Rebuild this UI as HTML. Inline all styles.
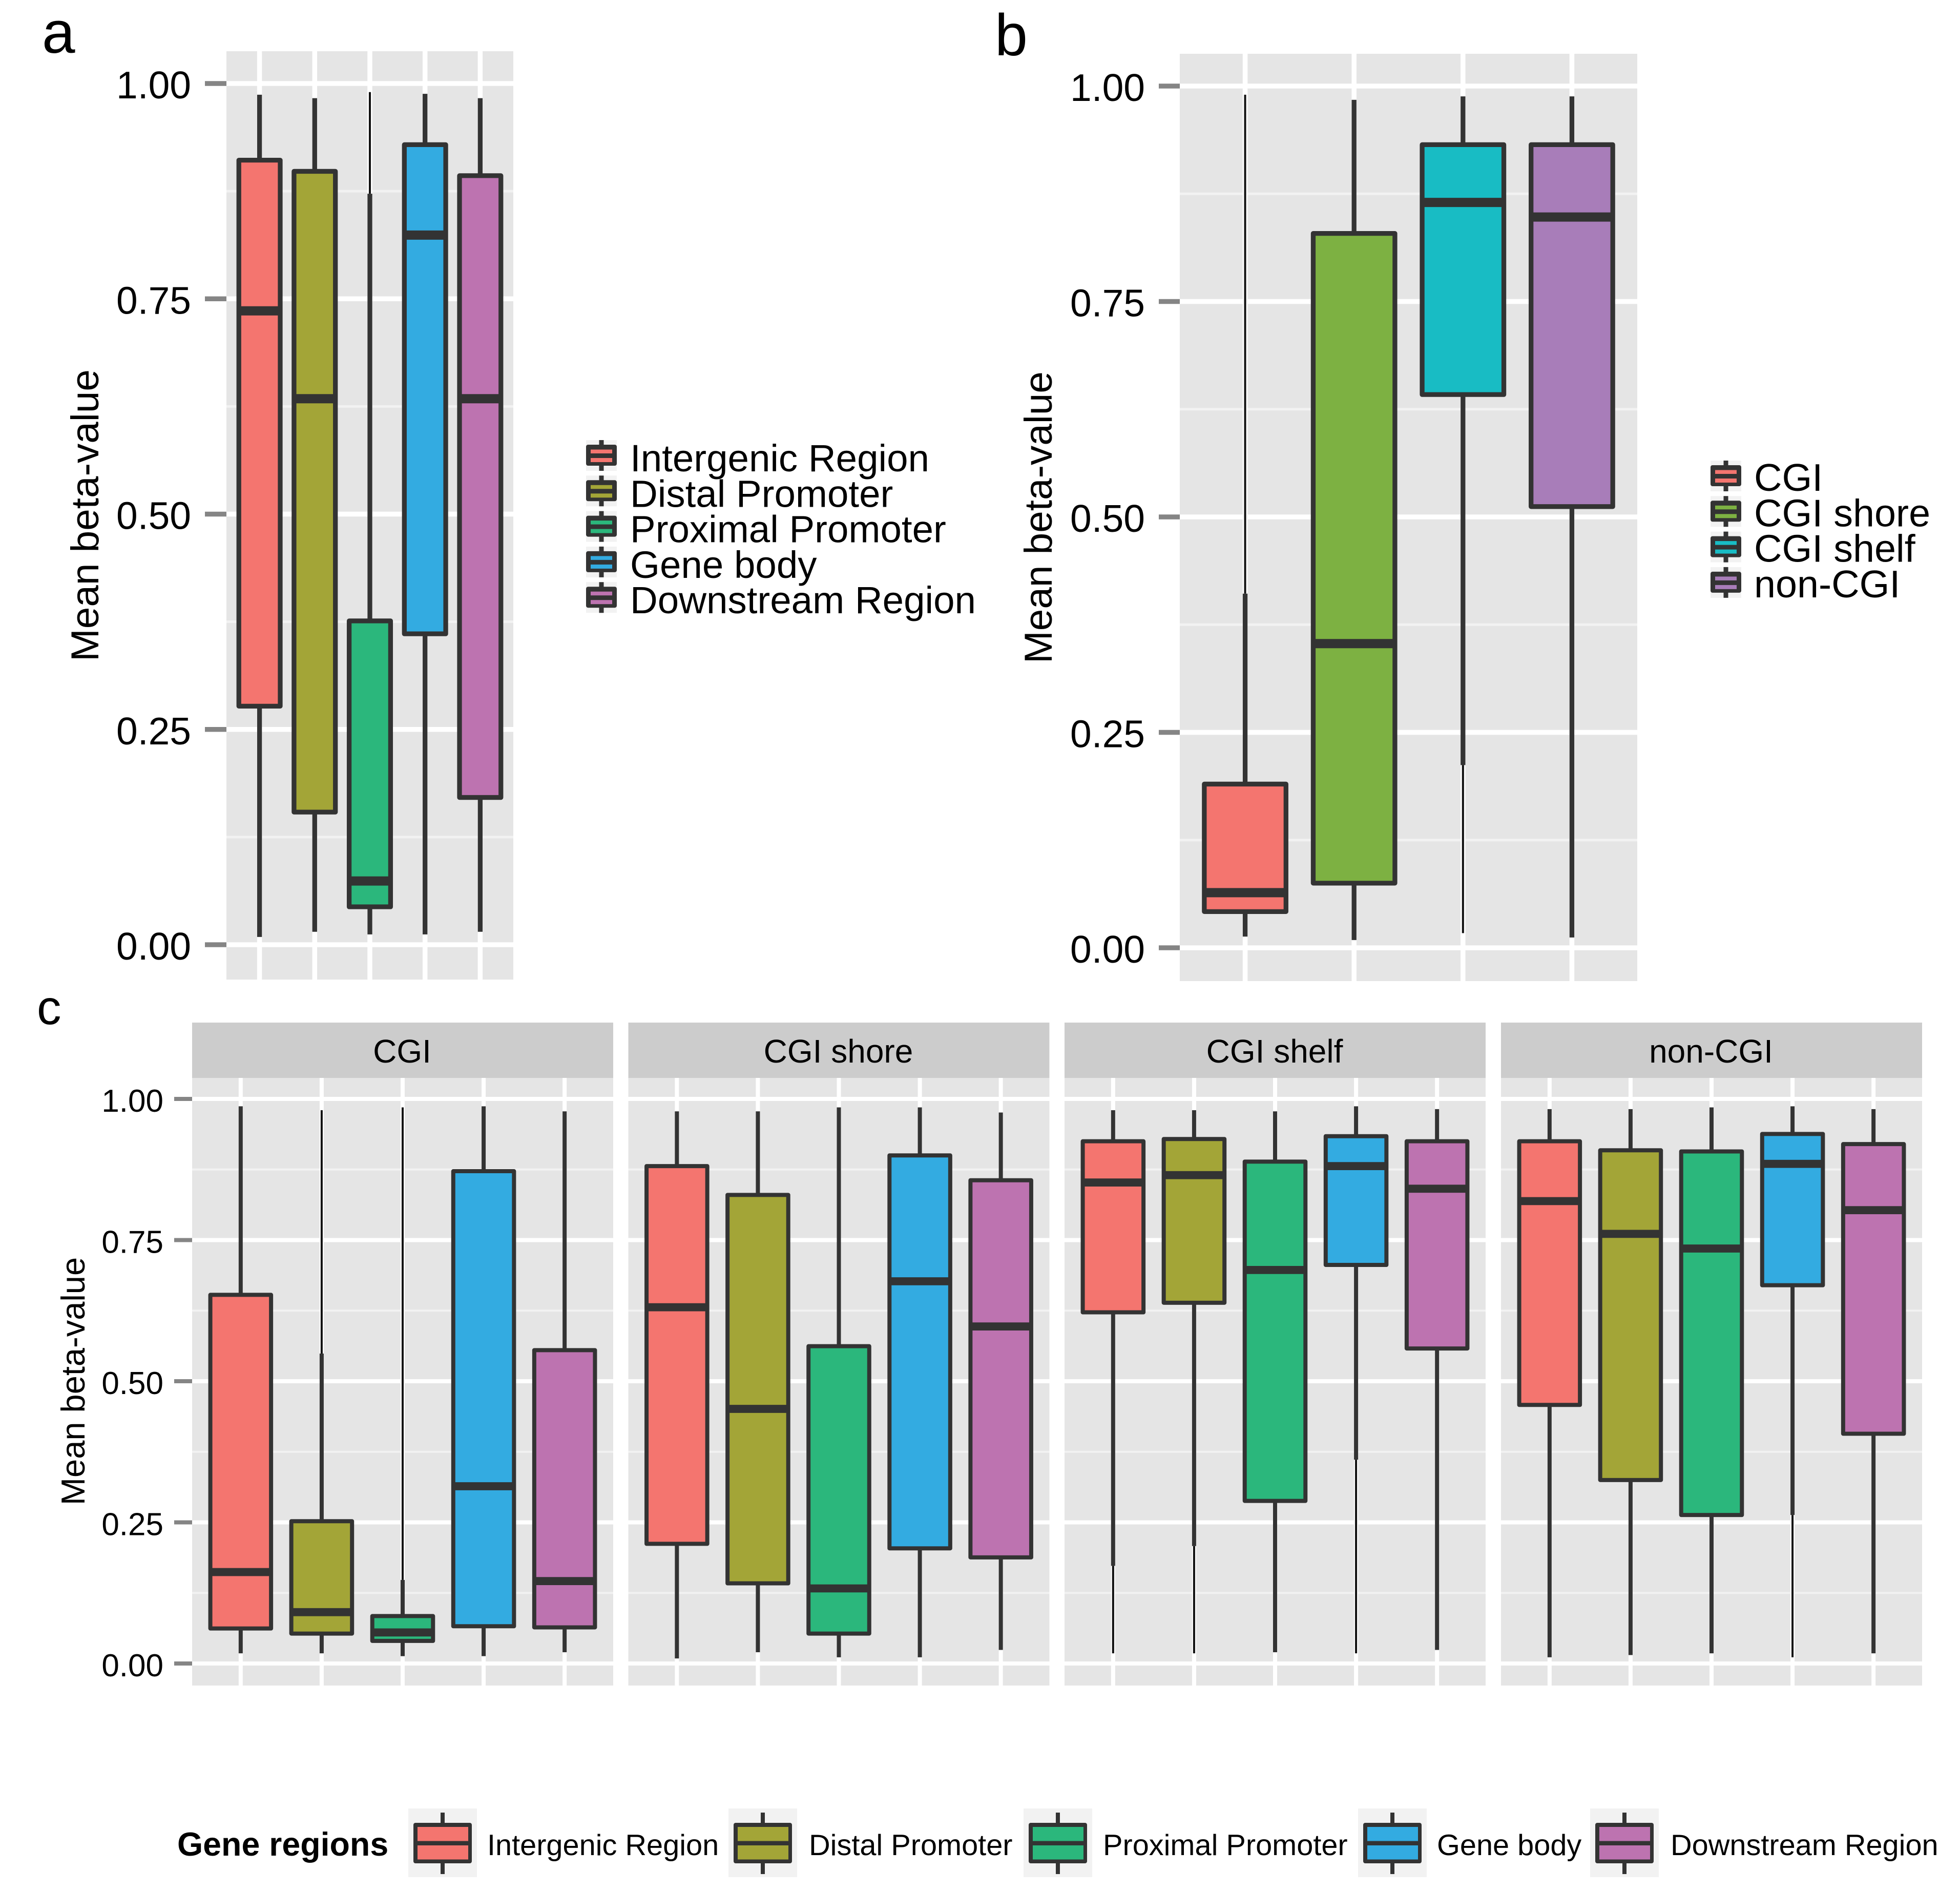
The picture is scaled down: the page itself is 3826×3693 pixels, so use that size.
<!DOCTYPE html>
<html lang="en">
<head>
<meta charset="utf-8">
<title>Mean beta-value box plots</title>
<style>
html,body{margin:0;padding:0;background:#fff;width:3826px;height:3693px;overflow:hidden}
svg{display:block}
text{font-family:"Liberation Sans",Arial,sans-serif;fill:#000}
</style>
</head>
<body>
<svg id="chart" xmlns="http://www.w3.org/2000/svg" width="3826" height="3693" viewBox="0 0 3826 3693">
  <rect x="0" y="0" width="3826" height="3693" fill="#ffffff"/>
</svg>
<script>
// ---- shared axis data ----
const tickValues = [0, 0.25, 0.5, 0.75, 1];
const tickLabels = ['0.00', '0.25', '0.50', '0.75', '1.00'];
const minorTickValues = [0.125, 0.375, 0.625, 0.875];
const yAxisTitle = 'Mean beta-value';

// ---- panel a ----
const regions = ['Intergenic Region', 'Distal Promoter', 'Proximal Promoter', 'Gene body', 'Downstream Region'];
const regionColors = ['#f4756f', '#a3a537', '#2bb77c', '#33abe1', '#bd73b0'];
const aHigh = [0.987, 0.983, 0.990, 0.988, 0.983];
const aQ3   = [0.911, 0.898, 0.376, 0.929, 0.893];
const aMed  = [0.736, 0.634, 0.074, 0.824, 0.634];
const aQ1   = [0.277, 0.154, 0.044, 0.361, 0.171];
const aLow  = [0.009, 0.015, 0.012, 0.012, 0.015];
const aThinUpperTo = [null, null, 0.872, null, null];
const aThinLowerFrom = [null, null, null, null, null];

// ---- panel b ----
const cgiClasses = ['CGI', 'CGI shore', 'CGI shelf', 'non-CGI'];
const cgiColors = ['#f4756f', '#7db142', '#18bcc4', '#a87db9'];
const bHigh = [0.990, 0.984, 0.988, 0.988];
const bQ3   = [0.190, 0.829, 0.932, 0.932];
const bMed  = [0.064, 0.353, 0.865, 0.848];
const bQ1   = [0.042, 0.075, 0.642, 0.512];
const bLow  = [0.013, 0.009, 0.017, 0.012];
const bThinUpperTo = [0.411, null, null, null];
const bThinLowerFrom = [null, null, 0.212, null];

// ---- panel c (one row per facet, one column per gene region) ----
const cHigh = [
  [0.987, 0.980, 0.985, 0.987, 0.978],
  [0.978, 0.978, 0.985, 0.985, 0.976],
  [0.980, 0.980, 0.978, 0.987, 0.982],
  [0.982, 0.982, 0.985, 0.987, 0.982]
];
const cQ3 = [
  [0.653, 0.252, 0.084, 0.872, 0.555],
  [0.881, 0.830, 0.562, 0.900, 0.856],
  [0.925, 0.929, 0.889, 0.934, 0.925],
  [0.925, 0.909, 0.907, 0.938, 0.920]
];
const cMed = [
  [0.162, 0.091, 0.055, 0.314, 0.146],
  [0.631, 0.451, 0.133, 0.677, 0.597],
  [0.852, 0.865, 0.697, 0.881, 0.841],
  [0.819, 0.761, 0.735, 0.885, 0.803]
];
const cQ1 = [
  [0.062, 0.053, 0.040, 0.066, 0.064],
  [0.212, 0.142, 0.053, 0.204, 0.188],
  [0.622, 0.639, 0.288, 0.706, 0.558],
  [0.458, 0.325, 0.263, 0.670, 0.407]
];
const cLow = [
  [0.018, 0.018, 0.013, 0.013, 0.020],
  [0.009, 0.020, 0.011, 0.011, 0.024],
  [0.018, 0.018, 0.020, 0.018, 0.024],
  [0.011, 0.015, 0.018, 0.011, 0.018]
];
const cThinUpperTo = [
  [null, 0.549, 0.148, null, null],
  [null, null, null, null, null],
  [null, null, null, null, null],
  [null, null, null, null, null]
];
const cThinLowerFrom = [
  [null, null, null, null, null],
  [null, null, null, null, null],
  [0.173, 0.208, null, 0.361, null],
  [null, null, null, 0.263, null]
];

// ---- drawing helpers ----
const NS = 'http://www.w3.org/2000/svg';
const root = document.getElementById('chart');
function make(tag, parent, props) {
  const node = document.createElementNS(NS, tag);
  for (const k in props) node.setAttribute(k, props[k]);
  parent.appendChild(node);
  return node;
}
function slug(s) { return s.toLowerCase().replace(/[^a-z0-9]+/g, '-'); }
const DARK = '#333333';

function drawFrame(parent, g, withAxis, name) {
  const yScale = v => g.yZero - v * (g.yZero - g.yOne);
  const n = g.count;
  const step = (g.right - g.left) / (n - 1 + 1.2);
  const xScale = i => g.left + (i + 0.6) * step;

  const bg = make('rect', parent, {x: g.left, y: g.top, width: g.right - g.left, height: g.bottom - g.top, fill: '#e5e5e5'});
  
  

  minorTickValues.forEach(v => {
    const line = make('line', parent, {x1: g.left, x2: g.right, y1: yScale(v), y2: yScale(v), stroke: '#f2f2f2', 'stroke-width': g.minorW});
    
    
  });
  tickValues.forEach(v => {
    const line = make('line', parent, {x1: g.left, x2: g.right, y1: yScale(v), y2: yScale(v), stroke: '#ffffff', 'stroke-width': g.majorW});
    
    
  });
  for (let i = 0; i < n; i++) {
    const line = make('line', parent, {x1: xScale(i), x2: xScale(i), y1: g.top, y2: g.bottom, stroke: '#ffffff', 'stroke-width': g.majorW});
    
    
  }
  if (withAxis) {
    tickValues.forEach((v, i) => {
      const tick = make('line', parent, {x1: g.left - g.tickLen, x2: g.left, y1: yScale(v), y2: yScale(v), stroke: '#858585', 'stroke-width': g.majorW});
      
      
      const label = make('text', parent, {x: g.labelRight, y: yScale(v) + g.labelDy, 'font-size': g.labelSize, 'text-anchor': 'end'});
      label.textContent = tickLabels[i];
      
      
    });
  }
  return {xScale, yScale, step};
}

function drawBoxes(parent, g, scales, series, names, colors, name) {
  const {xScale, yScale, step} = scales;
  const half = step * 0.375;
  names.forEach((cat, i) => {
    const grp = make('g', parent, {});
    
    
    const x = xScale(i);
    const yHigh = yScale(series.high[i]);
    const yLow = yScale(series.low[i]);
    const yQ3 = yScale(series.q3[i]);
    const yQ1 = yScale(series.q1[i]);
    const yMed = yScale(series.med[i]);

    // upper whisker (may have a hairline portion)
    const upTo = series.thinUp[i];
    if (upTo !== null) {
      const thin = make('line', grp, {x1: x, x2: x, y1: yHigh, y2: yScale(upTo), stroke: '#111111', 'stroke-width': 4});
      
      
      const thick = make('line', grp, {x1: x, x2: x, y1: yScale(upTo), y2: yQ3, stroke: DARK, 'stroke-width': g.stroke});
      
      
    } else {
      const up = make('line', grp, {x1: x, x2: x, y1: yHigh, y2: yQ3, stroke: DARK, 'stroke-width': g.stroke});
      
      
    }
    // lower whisker
    const lowFrom = series.thinLow[i];
    if (lowFrom !== null) {
      const thick = make('line', grp, {x1: x, x2: x, y1: yQ1, y2: yScale(lowFrom), stroke: DARK, 'stroke-width': g.stroke});
      
      
      const thin = make('line', grp, {x1: x, x2: x, y1: yScale(lowFrom), y2: yLow, stroke: '#111111', 'stroke-width': 4});
      
      
    } else {
      const down = make('line', grp, {x1: x, x2: x, y1: yQ1, y2: yLow, stroke: DARK, 'stroke-width': g.stroke});
      
      
    }
    const box = make('rect', grp, {x: x - half, y: yQ3, width: half * 2, height: yQ1 - yQ3, fill: colors[i], stroke: DARK, 'stroke-width': g.stroke, 'stroke-linejoin': 'round'});
    
    
    const med = make('line', grp, {x1: x - half, x2: x + half, y1: yMed, y2: yMed, stroke: DARK, 'stroke-width': g.medianW});
    
    
  });
}

function drawYTitle(parent, x, y, size, name) {
  const t = make('text', parent, {transform: 'translate(' + x + ' ' + y + ') rotate(-90)', 'font-size': size, 'text-anchor': 'middle'});
  t.textContent = yAxisTitle;
  
  
}

function drawPanelLetter(letter, x, y, size) {
  const t = make('text', root, {x: x, y: y, 'font-size': size});
  t.textContent = letter;
  
  
}

function drawSideLegend(names, colors, keyLeft, firstTop, textX, firstBaseline, fontSize, name) {
  const pitch = 69.3;
  names.forEach((label, i) => {
    const top = firstTop + i * pitch;
    const grp = make('g', root, {});
    
    
    const bg = make('rect', grp, {x: keyLeft, y: top, width: 60, height: 60, fill: '#f2f2f2'});
    
    
    const whisk = make('line', grp, {x1: keyLeft + 30, x2: keyLeft + 30, y1: top, y2: top + 60, stroke: DARK, 'stroke-width': 9});
    
    
    const body = make('rect', grp, {x: keyLeft, y: top + 9, width: 60, height: 41, rx: 4, fill: DARK});
    
    
    const upper = make('rect', grp, {x: keyLeft + 9, y: top + 18.5, width: 42, height: 7.5, fill: colors[i]});
    
    
    const lower = make('rect', grp, {x: keyLeft + 9, y: top + 35, width: 42, height: 8, fill: colors[i]});
    
    
    const t = make('text', grp, {x: textX, y: firstBaseline + i * pitch, 'font-size': fontSize});
    t.textContent = label;
    
    
  });
}

// ---- panel a render ----
const gA = {left: 442, right: 1002, top: 100, bottom: 1912, yOne: 163, yZero: 1844, count: regions.length, majorW: 9.5, minorW: 5, tickLen: 42, labelRight: 373, labelDy: 29, labelSize: 75, stroke: 9.3, medianW: 18};
const panelA = make('g', root, {});


const scalesA = drawFrame(panelA, gA, true, 'panel-a');
drawBoxes(panelA, gA, scalesA, {high: aHigh, q3: aQ3, med: aMed, q1: aQ1, low: aLow, thinUp: aThinUpperTo, thinLow: aThinLowerFrom}, regions, regionColors, 'panel-a');
drawYTitle(panelA, 192, 1006, 76.5, 'panel-a-y-axis-title');
drawPanelLetter('a', 82, 103, 116);
drawSideLegend(regions, regionColors, 1144, 859, 1230, 920, 74.5, 'panel-a-legend');

// ---- panel b render ----
const gB = {left: 2303, right: 3196, top: 105, bottom: 1915, yOne: 168, yZero: 1850, count: cgiClasses.length, majorW: 9.5, minorW: 5, tickLen: 41, labelRight: 2235, labelDy: 29, labelSize: 75, stroke: 9.3, medianW: 18};
const panelB = make('g', root, {});


const scalesB = drawFrame(panelB, gB, true, 'panel-b');
drawBoxes(panelB, gB, scalesB, {high: bHigh, q3: bQ3, med: bMed, q1: bQ1, low: bLow, thinUp: bThinUpperTo, thinLow: bThinLowerFrom}, cgiClasses, cgiColors, 'panel-b');
drawYTitle(panelB, 2053, 1010, 76.5, 'panel-b-y-axis-title');
drawPanelLetter('b', 1942, 108, 115);
drawSideLegend(cgiClasses, cgiColors, 3339, 899, 3424, 958, 75.5, 'panel-b-legend');

// ---- panel c render ----
const facetLefts = [375, 1226.5, 2078, 2930];
const panelC = make('g', root, {});


cgiClasses.forEach((facet, f) => {
  const left = facetLefts[f];
  const gC = {left: left, right: left + 822, top: 2104, bottom: 3290, yOne: 2145, yZero: 3247, count: regions.length, majorW: 8, minorW: 4, tickLen: 35, labelRight: 319, labelDy: 25, labelSize: 62, stroke: 8, medianW: 15.7};
  const facetName = 'facet-' + slug(facet);
  const grp = make('g', panelC, {});
  
  
  const strip = make('rect', grp, {x: left, y: 1996, width: 822, height: 108, fill: '#cccccc'});
  
  
  const stripText = make('text', grp, {x: left + 410, y: 2074, 'font-size': 64, 'text-anchor': 'middle'});
  stripText.textContent = facet;
  
  
  const scalesC = drawFrame(grp, gC, f === 0, facetName);
  drawBoxes(grp, gC, scalesC, {high: cHigh[f], q3: cQ3[f], med: cMed[f], q1: cQ1[f], low: cLow[f], thinUp: cThinUpperTo[f], thinLow: cThinLowerFrom[f]}, regions, regionColors, facetName);
});
drawYTitle(panelC, 165, 2696, 65, 'panel-c-y-axis-title');
drawPanelLetter('c', 72, 1999, 95);

// ---- bottom legend ----
const bottomLegendTitle = 'Gene regions';
const bottomKeyLefts = [797, 1422, 1998, 2651, 3104];
const bottomTextLefts = [951, 1579, 2153, 2805, 3261];
const legendBottom = make('g', root, {});


const legendTitle = make('text', legendBottom, {x: 346, y: 3622, 'font-size': 64.5, 'font-weight': 'bold'});
legendTitle.textContent = bottomLegendTitle;


regions.forEach((label, i) => {
  const kx = bottomKeyLefts[i];
  const grp = make('g', legendBottom, {});
  
  
  const bg = make('rect', grp, {x: kx, y: 3530, width: 134, height: 134, fill: '#f2f2f2'});
  
  
  const whisk = make('line', grp, {x1: kx + 67, x2: kx + 67, y1: 3538, y2: 3658, stroke: DARK, 'stroke-width': 8});
  
  
  const body = make('rect', grp, {x: kx + 10, y: 3558, width: 114, height: 79, rx: 4, fill: DARK});
  
  
  const upper = make('rect', grp, {x: kx + 18, y: 3566, width: 99, height: 27.5, fill: regionColors[i]});
  
  
  const lower = make('rect', grp, {x: kx + 18, y: 3602, width: 99, height: 27.5, fill: regionColors[i]});
  
  
  const t = make('text', grp, {x: bottomTextLefts[i], y: 3621, 'font-size': 57.7});
  t.textContent = label;
  
  
});
</script>
</body>
</html>
